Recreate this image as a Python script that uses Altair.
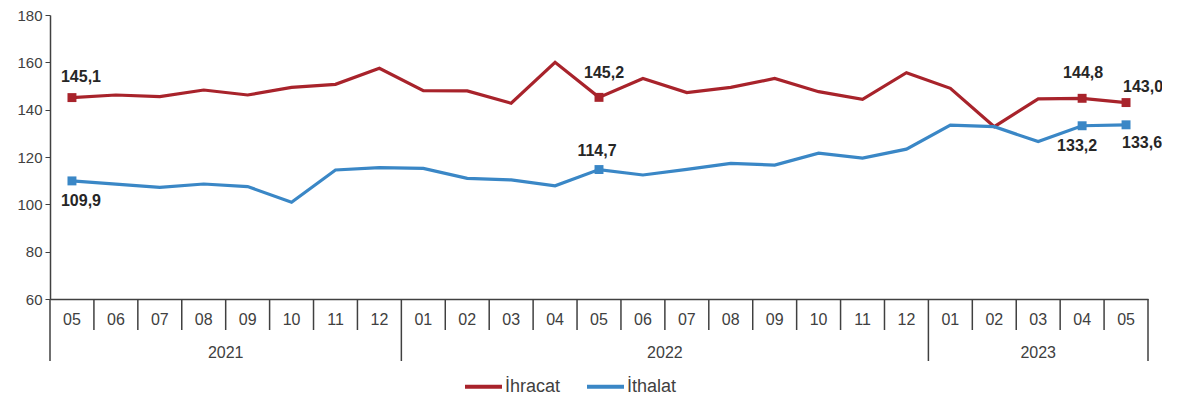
import altair as alt
import pandas as pd

months = ["05", "06", "07", "08", "09", "10", "11", "12",
          "01", "02", "03", "04", "05", "06", "07", "08", "09", "10", "11", "12",
          "01", "02", "03", "04", "05"]
years = ["2021"] * 8 + ["2022"] * 12 + ["2023"] * 5

ihracat = [145.1, 146.2, 145.5, 148.3, 146.2, 149.4, 150.7, 157.5,
           148.0, 147.9, 142.7, 160.0, 145.2, 153.2, 147.2, 149.4, 153.2, 147.6, 144.4, 155.6,
           149.0, 132.8, 144.6, 144.8, 143.0]
ithalat = [109.9, 108.5, 107.2, 108.6, 107.5, 100.9, 114.5, 115.5,
           115.2, 111.0, 110.3, 107.8, 114.7, 112.4, 114.8, 117.3, 116.6, 121.6, 119.5, 123.3,
           133.5, 132.8, 126.5, 133.2, 133.6]

series_names = ["İhracat", "İthalat"]
series_colors = ["#A8232B", "#3A87C6"]
marker_colors = ["#B8212A", "#2F86C8"]

# labelled points: (series, index, dx, dy)
labelled = [
    ("İhracat", 0, 9, -21), ("İthalat", 0, 9, 20),
    ("İhracat", 12, 5, -24), ("İthalat", 12, -2, -19),
    ("İhracat", 23, 1, -25), ("İhracat", 24, 17, -16),
    ("İthalat", 23, -5, 20), ("İthalat", 24, 16, 18),
]

rows = []
for i in range(len(months)):
    rows.append({"idx": i, "x": i + 0.5, "series": "İhracat", "value": ihracat[i]})
    rows.append({"idx": i, "x": i + 0.5, "series": "İthalat", "value": ithalat[i]})
df = pd.DataFrame(rows)
df["label"] = df["value"].map(lambda v: f"{v:.1f}".replace(".", ","))

n = len(months)
xscale = alt.Scale(domain=[0, n], nice=False, zero=False)
yscale = alt.Scale(domain=[60, 180], nice=False, zero=False)
cscale = alt.Scale(domain=series_names, range=series_colors)

FONT = "Liberation Sans"
AXIS_COL = "#404040"

base = alt.Chart(df)

lines = base.mark_line(strokeWidth=3.2).encode(
    x=alt.X("x:Q", scale=xscale,
            axis=alt.Axis(labels=False, ticks=False, grid=False, title=None,
                          domainColor=AXIS_COL, domainWidth=1.5)),
    y=alt.Y("value:Q", scale=yscale,
            axis=alt.Axis(values=list(range(60, 181, 20)), grid=False, title=None,
                          labelFont=FONT, labelFontSize=15, labelColor=AXIS_COL,
                          tickColor=AXIS_COL, tickSize=5, domainColor=AXIS_COL,
                          domainWidth=1.5, labelPadding=3)),
    color=alt.Color("series:N", scale=cscale, sort=series_names,
                    legend=alt.Legend(title=None, orient="none", legendX=413, legendY=351,
                                      direction="horizontal", symbolType="stroke",
                                      symbolSize=1369, symbolStrokeWidth=4,
                                      labelFont=FONT, labelFontSize=18, labelColor=AXIS_COL,
                                      labelOffset=1, columnPadding=18, padding=0)),
)

layers = [lines]

mask_frames = []
for s, i, dx, dy in labelled:
    mask_frames.append(df[(df["series"] == s) & (df["idx"] == i)])
pts_df = pd.concat(mask_frames)

points = alt.Chart(pts_df).mark_square(size=80, opacity=1).encode(
    x=alt.X("x:Q", scale=xscale),
    y=alt.Y("value:Q", scale=yscale),
    color=alt.Color("series:N", scale=alt.Scale(domain=series_names, range=marker_colors), legend=None),
)
layers.append(points)

for s, i, dx, dy in labelled:
    sub = df[(df["series"] == s) & (df["idx"] == i)]
    layers.append(
        alt.Chart(sub).mark_text(font=FONT, fontSize=16, fontWeight="bold", color="#262626",
                                 dx=dx, dy=dy, baseline="middle", align="center").encode(
            x=alt.X("x:Q", scale=xscale),
            y=alt.Y("value:Q", scale=yscale),
            text="label:N",
        )
    )

# month labels
mdf = pd.DataFrame({"x": [i + 0.5 for i in range(n)], "m": months})
layers.append(
    alt.Chart(mdf).mark_text(font=FONT, fontSize=16, color=AXIS_COL, baseline="middle").encode(
        x=alt.X("x:Q", scale=xscale), y=alt.value(305), text="m:N")
)

# separators
year_bounds = [0] + [i for i in range(1, n) if years[i] != years[i - 1]] + [n]
month_bounds = [b for b in range(1, n) if b not in year_bounds]
sep_m = pd.DataFrame({"b": month_bounds})
sep_y = pd.DataFrame({"b": year_bounds})
layers.append(
    alt.Chart(sep_m).mark_rule(color=AXIS_COL, strokeWidth=1.5).encode(
        x=alt.X("b:Q", scale=xscale), y=alt.value(284), y2=alt.value(315))
)
layers.append(
    alt.Chart(sep_y).mark_rule(color=AXIS_COL, strokeWidth=1.5).encode(
        x=alt.X("b:Q", scale=xscale), y=alt.value(284), y2=alt.value(346))
)

# year labels
ydf = pd.DataFrame({
    "y": [years[year_bounds[k]] for k in range(len(year_bounds) - 1)],
    "c": [(year_bounds[k] + year_bounds[k + 1]) / 2 for k in range(len(year_bounds) - 1)],
})
layers.append(
    alt.Chart(ydf).mark_text(font=FONT, fontSize=16, color=AXIS_COL, baseline="middle").encode(
        x=alt.X("c:Q", scale=xscale), y=alt.value(338), text="y:N")
)

chart = alt.layer(*layers).properties(
    width=1098, height=284,
    autosize=alt.AutoSizeParams(type="none"),
    padding={"left": 42, "top": 7, "right": 14, "bottom": 104},
    background="white",
).configure_view(stroke=None)

chart.save("out.html", embed_options={"renderer": "svg", "actions": False})
